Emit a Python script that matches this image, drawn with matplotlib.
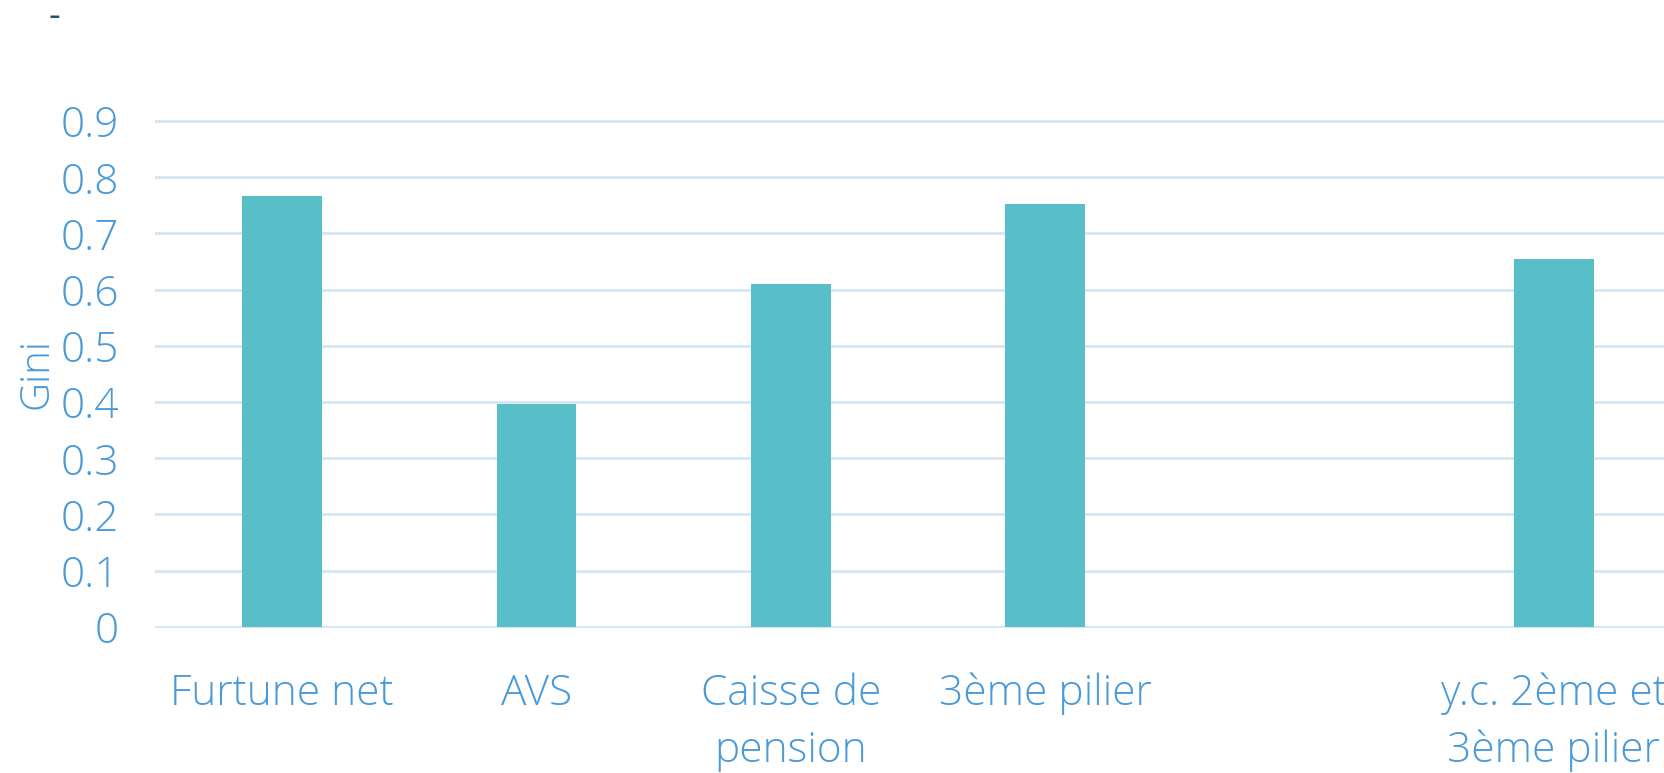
import matplotlib
matplotlib.use('Agg')
import matplotlib.pyplot as plt

# Gini coefficient by wealth component
categories = ['Furtune net', 'AVS', 'Caisse de\npension', '3ème pilier', '', 'y.c. 2ème et\n3ème pilier']
gini       = [0.767, 0.396, 0.610, 0.753, None, 0.654]
yticks     = [0, 0.1, 0.2, 0.3, 0.4, 0.5, 0.6, 0.7, 0.8, 0.9]
ytick_lbls = ['0', '0.1', '0.2', '0.3', '0.4', '0.5', '0.6', '0.7', '0.8', '0.9']

BAR_COLOR  = '#58bfc9'
TEXT_COLOR = '#4a9ad8'
GRID_COLOR = '#d5e6f4'

plt.rcParams['font.family'] = ['Open Sans', 'DejaVu Sans']

fig = plt.figure(figsize=(16.65, 7.73), dpi=100)
ax = fig.add_axes([0.0931, 0.1876, 0.9165, 0.6572])

xs = [i for i, v in enumerate(gini) if v is not None]
vals = [v for v in gini if v is not None]
ax.bar(xs, vals, width=0.314, color=BAR_COLOR, zorder=3)

ax.set_xlim(-0.5, len(categories) - 0.5)
ax.set_ylim(-0.002, 0.902)
ax.set_yticks(yticks)
ax.set_yticklabels(ytick_lbls)
ax.set_xticks(range(len(categories)))
ax.set_xticklabels(categories, linespacing=1.45)

ax.yaxis.grid(True, color=GRID_COLOR, linewidth=2, zorder=0)
ax.set_axisbelow(True)
for s in ax.spines.values():
    s.set_visible(False)
ax.tick_params(axis='both', length=0, labelsize=30.5, labelcolor=TEXT_COLOR)
ax.tick_params(axis='x', pad=32)
ax.tick_params(axis='y', pad=26)
for lbl in ax.get_xticklabels() + ax.get_yticklabels():
    lbl.set_fontweight('light')

ax.set_ylabel('Gini', fontsize=29, color=TEXT_COLOR, fontweight='light', labelpad=2)

# small dash at top left, as in the source
fig.text(54 / 1665, 1.0, '-', fontsize=26, color='#1f4e79',
         ha='center', va='top')

fig.savefig('out.png', dpi=100)
